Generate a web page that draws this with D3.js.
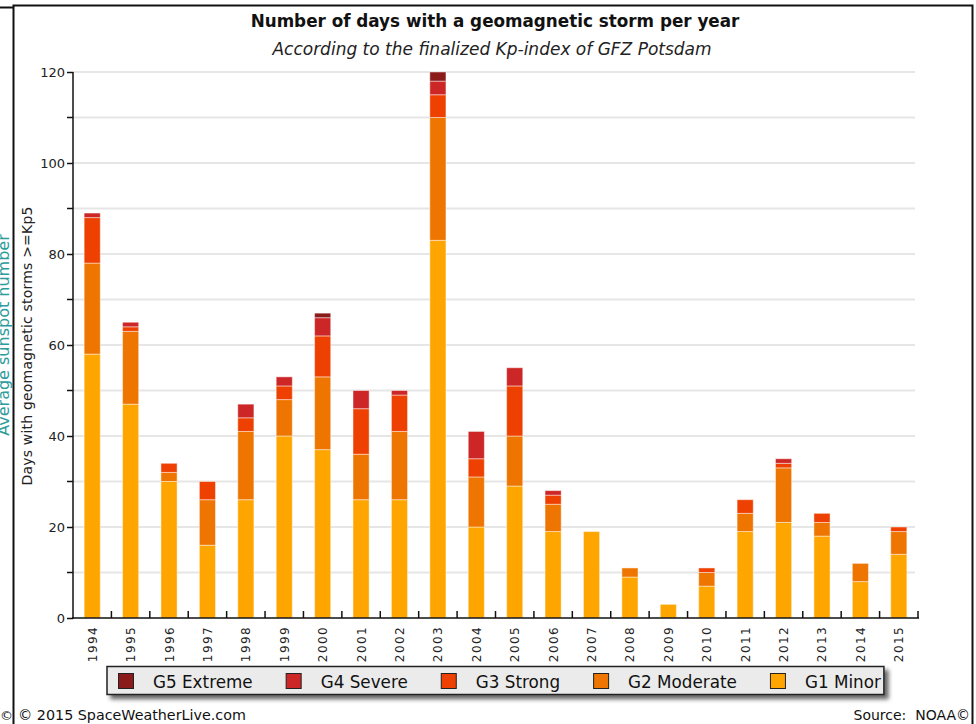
<!DOCTYPE html>
<html>
<head>
<meta charset="utf-8">
<script src="https://cdn.jsdelivr.net/npm/d3@7"></script>
<style>
  html, body { margin: 0; padding: 0; background: #fff; }
  svg { display: block; }
  text { font-family: "DejaVu Sans", sans-serif; }
</style>
</head>
<body>
<svg id="chart" width="976" height="724"></svg>
<script>
// ---- data ----
const years = ["1994","1995","1996","1997","1998","1999","2000","2001","2002","2003","2004",
               "2005","2006","2007","2008","2009","2010","2011","2012","2013","2014","2015"];
const g1Minor    = [58,47,30,16,26,40,37,26,26,83,20,29,19,19, 9, 3, 7,19,21,18, 8,14];
const g2Moderate = [20,16, 2,10,15, 8,16,10,15,27,11,11, 6, 0, 2, 0, 3, 4,12, 3, 4, 5];
const g3Strong   = [10, 1, 2, 4, 3, 3, 9,10, 8, 5, 4,11, 2, 0, 0, 0, 1, 3, 1, 2, 0, 1];
const g4Severe   = [ 1, 1, 0, 0, 3, 2, 4, 4, 1, 3, 6, 4, 1, 0, 0, 0, 0, 0, 1, 0, 0, 0];
const g5Extreme  = [ 0, 0, 0, 0, 0, 0, 1, 0, 0, 2, 0, 0, 0, 0, 0, 0, 0, 0, 0, 0, 0, 0];
const seriesKeys   = ["G1 Minor","G2 Moderate","G3 Strong","G4 Severe","G5 Extreme"];
const seriesColors = ["#ffa500","#ee7600","#ee4000","#cd2626","#8b1a1a"];
const yTicks = [0,20,40,60,80,100,120];
const yMinorTicks = [0,10,20,30,40,50,60,70,80,90,100,110,120];

const rows = years.map((y, i) => ({
  year: y,
  "G1 Minor": g1Minor[i], "G2 Moderate": g2Moderate[i], "G3 Strong": g3Strong[i],
  "G4 Severe": g4Severe[i], "G5 Extreme": g5Extreme[i]
}));

// ---- layout ----
const svg = d3.select("#chart");
const plot = { left: 73, right: 918, top: 72, bottom: 618 };

const x = d3.scaleBand().domain(years).range([plot.left, plot.right])
  .paddingInner(0.58).paddingOuter(0.29);
const y = d3.scaleLinear().domain([0, 120]).range([plot.bottom, plot.top]);
const color = d3.scaleOrdinal().domain(seriesKeys).range(seriesColors);

// frame
svg.append("rect").attr("x", 13.5).attr("y", 5.5).attr("width", 959).attr("height", 740)
  .attr("fill", "#fff").attr("stroke", "#111").attr("stroke-width", 2);
svg.append("line").attr("x1", 0).attr("x2", 13).attr("y1", 7.5).attr("y2", 7.5)
  .attr("stroke", "#111").attr("stroke-width", 2);

// partially visible text left of frame
svg.append("text")
  .attr("transform", "translate(9,335) rotate(-90)")
  .attr("text-anchor", "middle")
  .attr("fill", "#2b9b9b")
  .style("font-size", "16px")
  .text("Average sunspot number");

// title
svg.append("text").attr("x", 495).attr("y", 27).attr("text-anchor", "middle")
  .style("font-size", "16.8px").style("font-weight", "bold").attr("fill", "#111")
  .text("Number of days with a geomagnetic storm per year");
svg.append("text").attr("x", 492).attr("y", 55).attr("text-anchor", "middle")
  .style("font-size", "17px").style("font-style", "italic").attr("fill", "#222")
  .text("According to the finalized Kp-index of GFZ Potsdam");

// gridlines
svg.append("g").selectAll("line").data(yMinorTicks.filter(d => d > 0)).join("line")
  .attr("x1", plot.left).attr("x2", 915)
  .attr("y1", d => y(d)).attr("y2", d => y(d))
  .attr("stroke", "#e6e6e6").attr("stroke-width", 2);

// bars
const stacked = d3.stack().keys(seriesKeys)(rows);
svg.append("g").selectAll("g").data(stacked).join("g")
  .attr("fill", d => color(d.key))
  .selectAll("rect").data(d => d.filter(s => s[1] - s[0] > 0)).join("rect")
  .attr("x", d => x(d.data.year))
  .attr("width", x.bandwidth())
  .attr("y", d => y(d[1]))
  .attr("height", d => y(d[0]) - y(d[1]))
  .attr("stroke", "rgba(255,255,255,0.45)").attr("stroke-width", 1);

// y axis
const yAxis = d3.axisLeft(y).tickValues(yTicks).tickSize(6).tickPadding(2).tickFormat(d3.format("d"));
const yg = svg.append("g").attr("transform", `translate(${plot.left},0)`).call(yAxis);
yg.select(".domain").remove();
yg.selectAll(".tick line").attr("stroke", "#111").attr("stroke-width", 1.5);
yg.selectAll(".tick text").style("font-size", "13px").attr("fill", "#222")
  .style("font-family", "'DejaVu Sans', sans-serif");
svg.append("g").selectAll("line").data(yMinorTicks.filter(d => d % 20 !== 0)).join("line")
  .attr("x1", plot.left - 6).attr("x2", plot.left)
  .attr("y1", d => y(d)).attr("y2", d => y(d))
  .attr("stroke", "#111").attr("stroke-width", 1.5);
svg.append("line").attr("x1", plot.left).attr("x2", plot.left)
  .attr("y1", plot.top).attr("y2", plot.bottom + 1)
  .attr("stroke", "#111").attr("stroke-width", 1.5);

// x axis
svg.append("line").attr("x1", plot.left - 1).attr("x2", plot.right + 1)
  .attr("y1", plot.bottom).attr("y2", plot.bottom)
  .attr("stroke", "#111").attr("stroke-width", 1.5);
const step = x.step();
svg.append("g").selectAll("line").data(years).join("line")
  .attr("x1", d => x(d) + x.bandwidth() / 2 + step / 2)
  .attr("x2", d => x(d) + x.bandwidth() / 2 + step / 2)
  .attr("y1", plot.bottom).attr("y2", plot.bottom - 7)
  .attr("stroke", "#111").attr("stroke-width", 1.5);
svg.append("g").selectAll("text").data(years).join("text")
  .attr("transform", d => `translate(${x(d) + x.bandwidth() / 2 + 4.5},${plot.bottom + 8}) rotate(-90)`)
  .attr("text-anchor", "end")
  .style("font-size", "12px").style("letter-spacing", "1.4px").attr("fill", "#222")
  .text(d => d);

// y title
svg.append("text")
  .attr("transform", "translate(32,346) rotate(-90)")
  .attr("text-anchor", "middle")
  .style("font-size", "14px").style("letter-spacing", "0.2px").attr("fill", "#222")
  .text("Days with geomagnetic storms >=Kp5");

// legend
const defs = svg.append("defs");
const filt = defs.append("filter").attr("id", "shadow").attr("x", "-5%").attr("y", "-30%")
  .attr("width", "115%").attr("height", "190%");
filt.append("feDropShadow").attr("dx", 4).attr("dy", 4).attr("stdDeviation", 2)
  .attr("flood-color", "#000").attr("flood-opacity", 0.6);

const legendKeys = seriesKeys.slice().reverse();
const lg = svg.append("g");
const lbox = lg.append("rect").attr("fill", "#ebebeb").attr("stroke", "#222").attr("stroke-width", 1.5)
  .attr("filter", "url(#shadow)");
let lx = 118;
legendKeys.forEach((k) => {
  lg.append("rect").attr("x", lx + 0.5).attr("y", 673.5).attr("width", 15).attr("height", 15)
    .attr("fill", color(k)).attr("stroke", "#222").attr("stroke-width", 1);
  const t = lg.append("text").attr("x", lx + 35).attr("y", 687.5)
    .style("font-size", "16.8px").attr("fill", "#111").text(k);
  const w = t.node().getComputedTextLength();
  lx = lx + 35 + w + 33;
});
lbox.attr("x", 107).attr("y", 666.5).attr("width", lx - 33 + 3 - 107).attr("height", 28);

// footer
svg.append("text").attr("x", 0).attr("y", 720).style("font-size", "13px").attr("fill", "#111").text("©");
svg.append("text").attr("x", 18).attr("y", 720).style("font-size", "14.3px").attr("fill", "#111")
  .text("© 2015 SpaceWeatherLive.com");
svg.append("text").attr("x", 970).attr("y", 720).attr("text-anchor", "end")
  .style("font-size", "14px").attr("fill", "#111")
  .attr("xml:space", "preserve")
  .text("Source:  NOAA©");
</script>
</body>
</html>
